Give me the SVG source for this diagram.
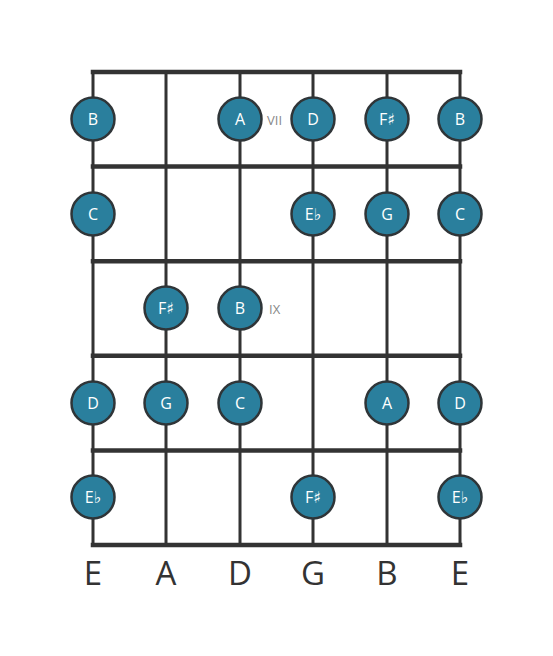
<svg xmlns="http://www.w3.org/2000/svg" width="553" height="656" viewBox="0 0 553 656">
<style>
.str{stroke:#333;stroke-width:3;fill:none}
.fret{stroke:#333;stroke-width:4.5;fill:none;stroke-linecap:square}
.dot{fill:#2a7f9d;stroke:#2f3538;stroke-width:2.5}
.nt{fill:#fff;font-family:"Open Sans","DejaVu Sans",sans-serif;font-size:16px;text-anchor:middle;dominant-baseline:central}
.pos{fill:#888;font-family:"Open Sans","DejaVu Sans",sans-serif;font-size:13px;dominant-baseline:central}
.lbl{fill:#333;font-family:"Open Sans","DejaVu Sans",sans-serif;font-size:33px;text-anchor:middle}
</style>
<rect width="553" height="656" fill="#fff"/>
<g id="connectors">
<line class="str" x1="93" y1="72" x2="93" y2="545"/>
<line class="str" x1="166" y1="72" x2="166" y2="545"/>
<line class="str" x1="240" y1="72" x2="240" y2="545"/>
<line class="str" x1="313" y1="72" x2="313" y2="545"/>
<line class="str" x1="387" y1="72" x2="387" y2="545"/>
<line class="str" x1="460" y1="72" x2="460" y2="545"/>
<line class="fret" x1="93" y1="72" x2="460" y2="72"/>
<line class="fret" x1="93" y1="166.6" x2="460" y2="166.6"/>
<line class="fret" x1="93" y1="261.2" x2="460" y2="261.2"/>
<line class="fret" x1="93" y1="355.8" x2="460" y2="355.8"/>
<line class="fret" x1="93" y1="450.4" x2="460" y2="450.4"/>
<line class="fret" x1="93" y1="545" x2="460" y2="545"/>
</g>
<g id="r1">
<g id="n1_1"><circle class="dot" cx="93" cy="119" r="21.5"/><text class="nt" x="93" y="119">B</text></g>
<g id="n1_3"><circle class="dot" cx="240" cy="119" r="21.5"/><text class="nt" x="240" y="119">A</text></g>
<g id="n1_4"><circle class="dot" cx="313" cy="119" r="21.5"/><text class="nt" x="313" y="119">D</text></g>
<g id="n1_5"><circle class="dot" cx="387" cy="119" r="21.5"/><text class="nt" x="387" y="119">F♯</text></g>
<g id="n1_6"><circle class="dot" cx="460" cy="119" r="21.5"/><text class="nt" x="460" y="119">B</text></g>
<text class="pos" x="267" y="120">VII</text>
</g>
<g id="r2">
<g id="n2_1"><circle class="dot" cx="93" cy="214" r="21.5"/><text class="nt" x="93" y="214">C</text></g>
<g id="n2_4"><circle class="dot" cx="313" cy="214" r="21.5"/><text class="nt" x="313" y="214">E♭</text></g>
<g id="n2_5"><circle class="dot" cx="387" cy="214" r="21.5"/><text class="nt" x="387" y="214">G</text></g>
<g id="n2_6"><circle class="dot" cx="460" cy="214" r="21.5"/><text class="nt" x="460" y="214">C</text></g>
</g>
<g id="r3">
<g id="n3_2"><circle class="dot" cx="166" cy="308" r="21.5"/><text class="nt" x="166" y="308">F♯</text></g>
<g id="n3_3"><circle class="dot" cx="240" cy="308" r="21.5"/><text class="nt" x="240" y="308">B</text></g>
<text class="pos" x="269" y="309">IX</text>
</g>
<g id="r4">
<g id="n4_1"><circle class="dot" cx="93" cy="403" r="21.5"/><text class="nt" x="93" y="403">D</text></g>
<g id="n4_2"><circle class="dot" cx="166" cy="403" r="21.5"/><text class="nt" x="166" y="403">G</text></g>
<g id="n4_3"><circle class="dot" cx="240" cy="403" r="21.5"/><text class="nt" x="240" y="403">C</text></g>
<g id="n4_5"><circle class="dot" cx="387" cy="403" r="21.5"/><text class="nt" x="387" y="403">A</text></g>
<g id="n4_6"><circle class="dot" cx="460" cy="403" r="21.5"/><text class="nt" x="460" y="403">D</text></g>
</g>
<g id="r5">
<g id="n5_1"><circle class="dot" cx="93" cy="497" r="21.5"/><text class="nt" x="93" y="497">E♭</text></g>
<g id="n5_4"><circle class="dot" cx="313" cy="497" r="21.5"/><text class="nt" x="313" y="497">F♯</text></g>
<g id="n5_6"><circle class="dot" cx="460" cy="497" r="21.5"/><text class="nt" x="460" y="497">E♭</text></g>
</g>
<g id="labels">
<text class="lbl" x="93" y="585">E</text>
<text class="lbl" x="166" y="585">A</text>
<text class="lbl" x="240" y="585">D</text>
<text class="lbl" x="313" y="585">G</text>
<text class="lbl" x="387" y="585">B</text>
<text class="lbl" x="460" y="585">E</text>
</g>
</svg>
